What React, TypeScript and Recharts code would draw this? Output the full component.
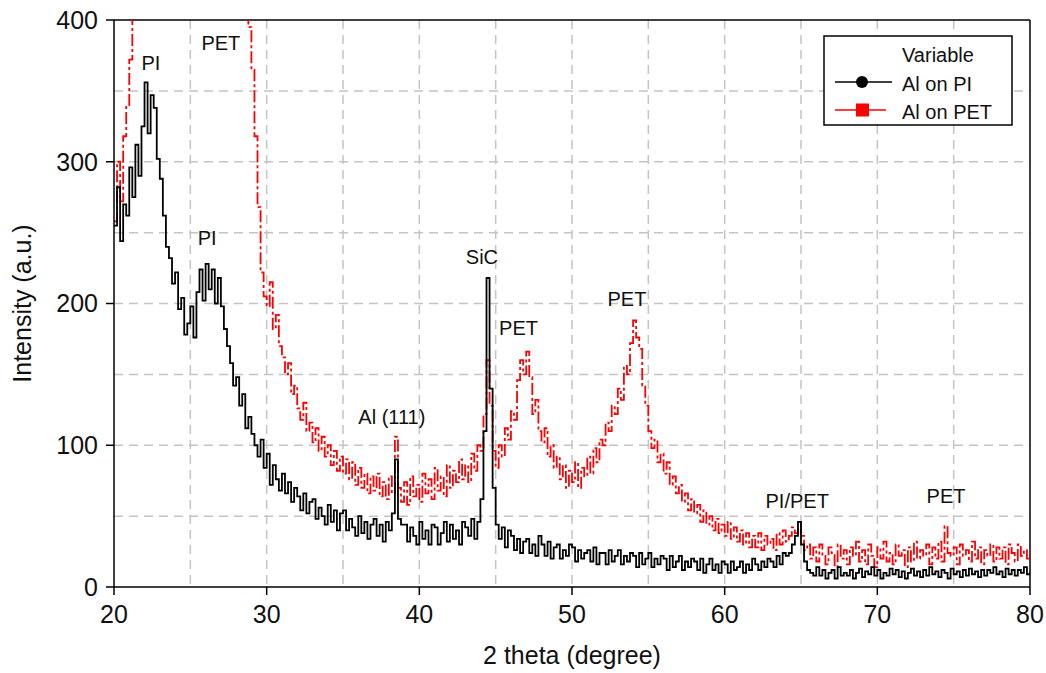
import {
	LineChart,
	Line,
	XAxis,
	YAxis,
	CartesianGrid,
	ReferenceLine,
	ReferenceDot,
} from 'recharts';

// scan parameters (degree)
const scanStart = 20;
const scanStep = 0.2;

// Al on PI, one row per degree (5 points each)
const alOnPI = [
	255, 282, 244, 270, 262,
	296, 275, 312, 290, 325,
	356, 320, 347, 338, 302,
	288, 262, 240, 232, 214,
	222, 196, 204, 178, 186,
	198, 176, 208, 224, 202,
	228, 210, 224, 200, 218,
	198, 182, 170, 158, 142,
	148, 128, 136, 112, 120,
	108, 100, 92, 104, 84,
	94, 72, 86, 76, 68,
	80, 66, 74, 60, 70,
	64, 54, 66, 52, 60,
	62, 48, 56, 50, 44,
	58, 46, 54, 40, 52,
	54, 40, 48, 42, 36,
	50, 38, 46, 34, 44,
	48, 36, 44, 32, 46,
	40, 52, 90, 48, 44,
	44, 32, 42, 36, 30,
	46, 34, 40, 30, 44,
	42, 30, 38, 46, 32,
	44, 34, 40, 30, 46,
	42, 36, 48, 34, 46,
	62, 110, 218, 140, 70,
	44, 34, 42, 28, 40,
	36, 26, 34, 24, 32,
	34, 24, 30, 22, 36,
	30, 22, 32, 20, 28,
	30, 20, 26, 22, 30,
	28, 18, 26, 20, 24,
	26, 18, 28, 16, 24,
	24, 16, 26, 18, 22,
	26, 16, 22, 18, 24,
	22, 14, 24, 16, 20,
	24, 14, 20, 16, 22,
	20, 12, 22, 14, 18,
	22, 12, 18, 14, 20,
	18, 12, 20, 10, 16,
	20, 12, 16, 10, 18,
	16, 10, 18, 12, 14,
	18, 10, 16, 12, 20,
	16, 12, 18, 14, 20,
	18, 14, 22, 16, 24,
	22, 24, 30, 36, 46,
	30, 18, 12, 10, 8,
	14, 8, 12, 6, 10,
	12, 6, 14, 8, 10,
	8, 12, 6, 10, 13,
	7, 11, 9, 14, 8,
	12, 6, 10, 8, 13,
	9, 12, 7, 11, 6,
	10, 13, 8, 11, 7,
	12, 8, 14, 9, 11,
	7, 12, 10, 6, 13,
	9, 11, 7, 12, 8,
	13, 9, 11, 7, 12,
	8, 12, 10, 14, 9,
	11, 7, 13, 9, 12,
	8, 12, 10, 14, 9,
	11,
];

// Al on PET (the big PET peak runs off the top of the plot)
const alOnPET = [
	258, 300, 272, 318, 340,
	372, 405, 430, 460, 490,
	530, 580, 630, 680, 720,
	760, 800, 830, 860, 885,
	905, 920, 935, 945, 955,
	960, 955, 948, 935, 920,
	900, 870, 830, 790, 750,
	700, 650, 600, 560, 520,
	490, 460, 435, 415, 395,
	365, 318, 268, 222, 205,
	198, 215, 182, 192, 170,
	162, 150, 158, 136, 142,
	126, 118, 130, 110, 116,
	102, 112, 96, 106, 92,
	100, 86, 96, 82, 92,
	80, 90, 76, 88, 72,
	84, 70, 80, 66, 78,
	68, 80, 64, 74, 62,
	78, 66, 106, 70, 60,
	74, 58, 78, 64, 72,
	60, 80, 66, 76, 62,
	84, 68, 78, 64, 86,
	70, 82, 74, 90, 76,
	86, 74, 94, 82, 100,
	96, 122, 160, 128, 96,
	84, 100, 92, 112, 104,
	124, 118, 146, 160, 150,
	166, 148, 122, 132, 110,
	102, 112, 92, 100, 84,
	92, 76, 86, 70, 82,
	74, 88, 70, 84, 78,
	92, 80, 98, 88, 104,
	100, 116, 110, 128, 122,
	140, 132, 156, 150, 172,
	188, 176, 168, 142, 128,
	110, 98, 104, 88, 94,
	80, 88, 72, 78, 66,
	72, 60, 66, 54, 62,
	52, 58, 46, 54, 44,
	50, 40, 48, 38, 44,
	36, 46, 34, 42, 32,
	40, 30, 38, 28, 36,
	28, 38, 26, 36, 30,
	34, 26, 38, 30, 40,
	32, 36, 42, 38, 46,
	36, 26, 30, 20, 28,
	18, 30, 22, 16, 28,
	24, 14, 30, 20, 26,
	16, 28, 22, 32, 18,
	26, 16, 30, 22, 14,
	28, 20, 32, 18, 24,
	16, 30, 22, 26, 14,
	28, 18, 32, 20, 26,
	22, 30, 16, 28, 20,
	32, 18, 43, 24, 22,
	28, 16, 30, 22, 26,
	18, 32, 20, 28, 16,
	26, 22, 30, 18, 28,
	20, 28, 16, 30, 24,
	18, 30, 22, 26, 20,
	22,
];

const seriesNames = ['Al on PI', 'Al on PET'];
const legendTitle = 'Variable';
const xTicks = [20, 30, 40, 50, 60, 70, 80];
const yTicks = [0, 100, 200, 300, 400];
const xGrid = [25, 30, 35, 40, 45, 50, 55, 60, 65, 70, 75];
const yGrid = [50, 100, 150, 200, 250, 300, 350];

const peakLabels = [
	{ text: 'PI', x: 22.42, y: 370 },
	{ text: 'PET', x: 27.0, y: 384 },
	{ text: 'PI', x: 26.1, y: 246 },
	{ text: 'SiC', x: 44.1, y: 233 },
	{ text: 'PET', x: 46.5, y: 183 },
	{ text: 'Al (111)', x: 38.2, y: 120 },
	{ text: 'PET', x: 53.6, y: 203 },
	{ text: 'PI/PET', x: 64.75, y: 61 },
	{ text: 'PET', x: 74.5, y: 64 },
];

const chartData = alOnPI.map((v, i) => ({
	x: scanStart + i * scanStep,
	pi: v,
	pet: alOnPET[i],
}));

const font = 'Liberation Sans, Arial, sans-serif';

function LegendBox() {
	return (
		<svg
			width={190}
			height={92}
			style={{ position: 'absolute', left: 823, top: 35 }}
			fontFamily={font}
			fontSize={20}
		>
			<rect x={1} y={1} width={188} height={89} fill="#fff" stroke="#000" strokeWidth={1.5} />
			<text x={79} y={27} fill="#111">{legendTitle}</text>
			<line x1={12} x2={69} y1={47} y2={47} stroke="#000" strokeWidth={1.5} />
			<circle cx={39} cy={47} r={6} fill="#000" />
			<text x={79} y={56} fill="#111">{seriesNames[0]}</text>
			<line x1={12} x2={63} y1={75} y2={75} stroke="#ff0000" strokeWidth={1.5} />
			<rect x={33} y={68.5} width={13} height={13} fill="#ff0000" />
			<text x={79} y={84} fill="#111">{seriesNames[1]}</text>
		</svg>
	);
}

export default function App() {
	return (
		<div style={{ position: 'absolute', left: 0, top: 0, width: 1046, height: 673, background: '#fff' }}>
			<LineChart
				width={1046}
				height={673}
				data={chartData}
				margin={{ top: 20, right: 16, bottom: 0, left: 0 }}
			>
				<CartesianGrid
					horizontalValues={yGrid}
					verticalValues={xGrid}
					stroke="#c4c4c4"
					strokeWidth={1.5}
					strokeDasharray="9 6"
				/>
				<XAxis
					dataKey="x"
					type="number"
					domain={[20, 80]}
					ticks={xTicks}
					allowDataOverflow
					stroke="#000"
					strokeWidth={1.5}
					tickSize={8}
					tick={{ fill: '#111', fontSize: 25, fontFamily: font }}
					tickMargin={10}
					height={86}
					label={{
						value: '2 theta (degree)',
						position: 'insideBottom',
						offset: 9,
						fill: '#111',
						fontSize: 25,
						fontFamily: font,
					}}
				/>
				<YAxis
					type="number"
					domain={[0, 400]}
					ticks={yTicks}
					allowDataOverflow
					width={114}
					stroke="#000"
					strokeWidth={1.5}
					tickSize={8}
					tick={{ fill: '#111', fontSize: 25, fontFamily: font }}
					tickMargin={8}
					label={{
						value: 'Intensity (a.u.)',
						angle: -90,
						position: 'insideLeft',
						offset: 22,
						style: { textAnchor: 'middle' },
						fill: '#111',
						fontSize: 25,
						fontFamily: font,
					}}
				/>
				<ReferenceLine y={400} stroke="#000" strokeWidth={1.5} />
				<ReferenceLine x={80} stroke="#000" strokeWidth={1.5} />
				<Line
					dataKey="pet"
					name={seriesNames[1]}
					type="stepAfter"
					stroke="#ff0000"
					strokeWidth={1.8}
					strokeDasharray="12 3 3 3"
					dot={false}
					isAnimationActive={false}
				/>
				<Line
					dataKey="pi"
					name={seriesNames[0]}
					type="stepAfter"
					stroke="#000"
					strokeWidth={1.8}
					dot={false}
					isAnimationActive={false}
				/>
				{peakLabels.map((p, i) => (
					<ReferenceDot
						key={i}
						x={p.x}
						y={p.y}
						r={0}
						stroke="none"
						label={{
							value: p.text,
							position: 'center',
							fill: '#111',
							fontSize: 20,
							fontFamily: font,
						}}
					/>
				))}
			</LineChart>
			<LegendBox />
		</div>
	);
}
